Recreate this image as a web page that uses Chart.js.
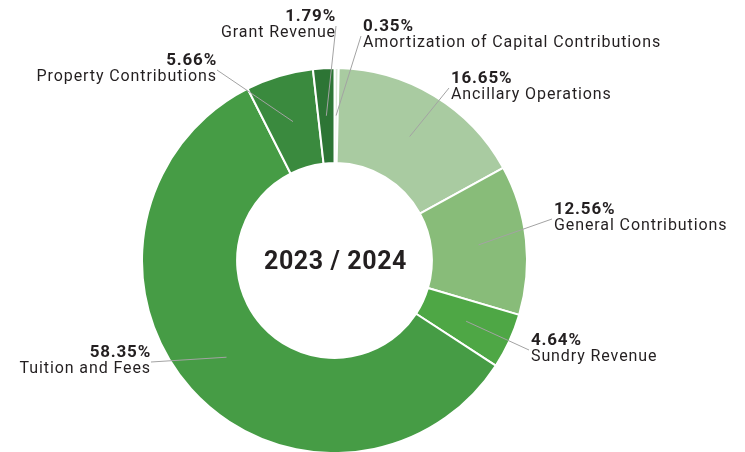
<!DOCTYPE html>
<html>
<head>
<meta charset="utf-8">
<script src="https://cdn.jsdelivr.net/npm/chart.js@4.4.1/dist/chart.umd.min.js"></script>
<style>
  html, body { margin: 0; padding: 0; background: #fff; }
  #wrap { width: 745px; height: 452px; position: relative; }
</style>
</head>
<body>
<div id="wrap"><canvas id="revenueChart" width="745" height="452"></canvas></div>
<script>
// revenue sources, clockwise from 12 o'clock
const categories = [
  'Amortization of Capital Contributions',
  'Ancillary Operations',
  'General Contributions',
  'Sundry Revenue',
  'Tuition and Fees',
  'Property Contributions',
  'Grant Revenue'
]
const shares = [0.35, 16.65, 12.56, 4.64, 58.35, 5.66, 1.79]
const sliceColors = ['#dce9d8', '#a9cba1', '#88bc79', '#4ea745', '#469c45', '#3a8a3e', '#2d7535']
const centerTitle = '2023 / 2024'

// where each label sits (text anchor) and which side it is aligned to
const labelSpots = [
  { x: 363, y: 27, align: 'left' },
  { x: 451, y: 79, align: 'left' },
  { x: 554, y: 210, align: 'left' },
  { x: 531, y: 341, align: 'left' },
  { x: 151, y: 353, align: 'right' },
  { x: 217, y: 61, align: 'right' },
  { x: 336, y: 17, align: 'right' }
]

const FONT = 'Roboto, "DejaVu Sans", sans-serif'

// leader lines + labels
const calloutPlugin = {
  id: 'callouts',
  afterDatasetsDraw(chart) {
    const ctx = chart.ctx
    const arcs = chart.getDatasetMeta(0).data
    ctx.save()
    arcs.forEach((arc, i) => {
      const spot = labelSpots[i]
      const p = arc.tooltipPosition()
      const lineX = spot.align === 'left' ? spot.x - 2 : spot.x
      const lineY = spot.y + 9
      ctx.strokeStyle = '#a3a3a3'
      ctx.lineWidth = 1
      ctx.beginPath()
      ctx.moveTo(lineX, lineY)
      ctx.lineTo(p.x, p.y)
      ctx.stroke()

      ctx.fillStyle = '#231f20'
      ctx.textAlign = spot.align
      ctx.textBaseline = 'middle'
      ctx.font = 'bold 17px ' + FONT
      ctx.letterSpacing = '0.8px'
      ctx.fillText(shares[i].toFixed(2) + '%', spot.x, spot.y)
      ctx.font = '16px ' + FONT
      ctx.letterSpacing = '0.9px'
      ctx.fillText(categories[i], spot.x, spot.y + 16)
    })
    ctx.restore()
  }
}

const centerTextPlugin = {
  id: 'centerText',
  afterDraw(chart) {
    const ctx = chart.ctx
    const arc = chart.getDatasetMeta(0).data[0]
    ctx.save()
    ctx.fillStyle = '#231f20'
    ctx.font = 'bold 25px ' + FONT
    ctx.letterSpacing = '0.6px'
    ctx.textAlign = 'center'
    ctx.textBaseline = 'middle'
    ctx.fillText(centerTitle, arc.x + 1, arc.y + 2)
    ctx.restore()
  }
}

new Chart(document.getElementById('revenueChart'), {
  type: 'doughnut',
  data: {
    labels: categories,
    datasets: [{
      data: shares,
      backgroundColor: sliceColors,
      borderColor: '#ffffff',
      borderWidth: 2,
      hoverOffset: 0
    }]
  },
  options: {
    responsive: false,
    animation: false,
    radius: 192.5,
    cutout: '50.6%',
    layout: { padding: { left: 0, right: 76, top: 69, bottom: 0 } },
    plugins: {
      legend: { display: false },
      tooltip: { enabled: false }
    }
  },
  plugins: [calloutPlugin, centerTextPlugin]
})
</script>
</body>
</html>
